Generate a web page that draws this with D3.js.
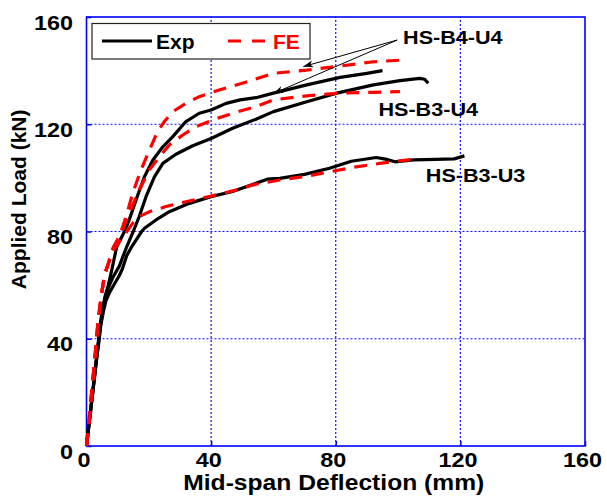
<!DOCTYPE html>
<html>
<head>
<meta charset="utf-8">
<script src="https://cdn.jsdelivr.net/npm/d3@7"></script>
<style>
    body { margin: 0; background: #fff; }
    svg text { font-family: "Liberation Sans", Arial, sans-serif; font-weight: bold; }
</style>
</head>
<body>
<div id="chart"></div>
<script>
// tick values
var xTicks = [0, 40, 80, 120, 160];
var yTicks = [0, 40, 80, 120, 160];

// experimental curves [deflection mm, load kN]
var expB4U4 = [[0,0],[0.6,6],[1.3,13],[2,20],[2.7,28],[3.4,35],[4,41],[4.6,47],[5.3,52],[6,56],[7,60],[8.1,65.6],[9.7,74.3],[12.2,80],[13.7,84.3],[15.9,91.8],[18.6,100.4],[21.3,106.7],[24.5,111.6],[27.7,115.4],[31.9,121],[36.2,124.1],[40,125.3],[44.8,127.8],[49.3,129.1],[54.4,129.9],[60,131.6],[70.7,134.7],[81.4,137.5],[90,139],[95,140]];
var expB3U4 = [[0,0],[0.6,6],[1.3,13],[2,20],[2.7,27],[3.4,34],[4,40],[4.6,46],[5.3,51],[5.9,55],[7,59],[8.5,63],[10.5,67],[12.9,74.3],[15,80],[16.9,85.5],[19.1,93],[21.8,100.4],[24.5,105.4],[28.7,108.8],[34.1,112],[40,114.7],[46.9,118.5],[54.4,121.9],[60,124.7],[70.7,128.4],[80.3,131.6],[92.1,134.7],[100.6,136.3],[107,137.1],[108.5,136.8],[109.7,135.3]];
var expB3U3 = [[0,0],[0.6,6],[1.3,13],[2,20],[2.7,27],[3.4,34],[4,39],[4.6,45],[5.4,50],[6.2,54],[7.5,57.5],[9,60.5],[10.5,63.5],[11.5,66],[12.9,71],[14.5,74.3],[15.9,76.8],[17.7,80],[18.6,81.2],[22.3,84.3],[26.6,87.4],[33,90.5],[40,93],[46.9,94.9],[54.4,98],[58,99.5],[62,99.8],[70,101.3],[78,103.6],[85,106.2],[93,107.6],[96,107],[99,106],[105,106.7],[112,106.9],[118,107.1],[121.3,108.2]];

// finite element curves
var feB4U4 = [[0,0],[0.7,8],[1.5,18],[2.3,28],[3,37],[3.6,45],[4.3,52],[5,58],[5.8,64],[7,68],[8.6,74],[10.5,78],[12.7,85.5],[14.8,94.2],[17.5,103],[20.2,110.4],[22.8,117.2],[25,121],[27.7,124.7],[31.9,127.8],[36.2,130.3],[42.6,132.8],[50,135.3],[60,139],[70.7,140.2],[81.4,141.7],[92.1,143.3],[102.2,144]];
var feB3U4 = [[0,0],[0.7,8],[1.5,18],[2.3,28],[3,37],[3.6,45],[4.3,52],[5,58],[5.8,64],[7,68],[8.6,74],[11.1,79.3],[13.7,86.8],[16.9,95.5],[20.2,103],[23.4,107.9],[26.6,112.3],[30.9,116],[35.2,119.1],[40.5,121.6],[46.9,124.1],[54.4,126.6],[60,129.1],[70.7,130.6],[81.4,131.6],[92.1,131.9],[100.6,132.2]];
var feB3U3 = [[0,0],[0.7,8],[1.5,18],[2.3,28],[3,37],[3.6,45],[4.3,52],[5,58],[5.8,64],[7,68],[8.6,73],[11,77],[13,80],[14.8,83.1],[16.9,85.5],[20.2,87.4],[25.5,89.3],[31.9,91.1],[40,93.2],[48,95.5],[53.4,97.4],[62,99.2],[70,100.5],[78.2,102.3],[86,104],[94.2,105.4],[100,106.3],[104.9,106.9]];

// specimen labels [text, x, y] in data units
var labels = [['HS-B4-U4', 101.6, 150], ['HS-B3-U4', 93.7, 123], ['HS-B3-U3', 108.9, 98.5]];
// arrows from the HS-B4-U4 label [x1, y1, x2, y2]
var arrows = [[99.7, 151.4, 69.6, 141.5], [99.7, 151.4, 60, 131.5]];

var W = 607, H = 498;
var margin = { left: 86.5, top: 17, right: 22, bottom: 52 };

var svg = d3.select('#chart').append('svg').attr('width', W).attr('height', H);

var x = d3.scaleLinear().domain([0, 160]).range([margin.left, W - margin.right]);
var y = d3.scaleLinear().domain([0, 160]).range([H - margin.bottom, margin.top]);

// labels go under the grid, like the original
svg.selectAll('.lbl').data(labels).enter().append('text').classed('lbl', true)
    .attr('transform', function (d) { return 'translate(' + x(d[1]) + ',' + y(d[2]) + ') scale(1.2,1)'; })
    .style('font-size', '18px').attr('fill', '#000')
    .text(function (d) { return d[0]; });

// dotted grid
var grid = svg.append('g');
grid.selectAll('.gx').data(xTicks.slice(1, -1)).enter().append('line')
    .attr('x1', function (d) { return x(d); }).attr('x2', function (d) { return x(d); })
    .attr('y1', y(0)).attr('y2', y(160));
grid.selectAll('.gy').data(yTicks.slice(1, -1)).enter().append('line')
    .attr('y1', function (d) { return y(d); }).attr('y2', function (d) { return y(d); })
    .attr('x1', x(0)).attr('x2', x(160));
grid.selectAll('line').attr('stroke', '#1010ee').attr('stroke-width', 1.2).attr('stroke-dasharray', '2,2');

// axes with inward ticks
var xAxis = svg.append('g').attr('transform', 'translate(0,' + y(0) + ')')
    .call(d3.axisBottom(x).tickValues(xTicks).tickSizeInner(-5).tickSizeOuter(0));
var yAxis = svg.append('g').attr('transform', 'translate(' + x(0) + ',0)')
    .call(d3.axisLeft(y).tickValues(yTicks).tickSizeInner(-5).tickSizeOuter(0));
[xAxis, yAxis].forEach(function (a) {
    a.select('.domain').remove();
    a.selectAll('.tick line').attr('stroke', '#0000ff').attr('stroke-width', 1.5);
    a.selectAll('.tick text').attr('fill', '#000').style('font-size', '20px');
});
xAxis.selectAll('.tick text').attr('y', 21).attr('dy', 0).attr('x', -2.5)
    .attr('transform', 'scale(1.17,1)');
yAxis.selectAll('.tick text').attr('x', -11.5).attr('dy', 0).attr('y', 12)
    .attr('transform', 'scale(1.17,1)');

// frame
svg.append('rect').attr('x', x(0)).attr('y', y(160))
    .attr('width', x(160) - x(0)).attr('height', y(0) - y(160))
    .attr('fill', 'none').attr('stroke', '#0000ff').attr('stroke-width', 1.6);

// axis titles
svg.append('text').attr('transform', 'translate(' + ((x(0) + x(160)) / 2 - 2) + ',490) scale(1.12,1)')
    .attr('text-anchor', 'middle').style('font-size', '22px').text('Mid-span Deflection (mm)');
svg.append('text').attr('transform', 'translate(26,' + y(92) + ') rotate(-90)')
    .attr('text-anchor', 'middle').style('font-size', '21px').text('Applied Load (kN)');

// curves
var line = d3.line().x(function (d) { return x(d[0]); }).y(function (d) { return y(d[1]); });
svg.selectAll('.exp').data([expB4U4, expB3U4, expB3U3]).enter().append('path').classed('exp', true)
    .attr('d', line).attr('fill', 'none').attr('stroke', '#000').attr('stroke-width', 3.2)
    .attr('stroke-linejoin', 'round');
svg.selectAll('.fe').data([feB4U4, feB3U4, feB3U3]).enter().append('path').classed('fe', true)
    .attr('d', line).attr('fill', 'none').attr('stroke', '#ff0000').attr('stroke-width', 3.2)
    .attr('stroke-dasharray', '13,9');

// arrow annotations
svg.append('defs').append('marker').attr('id', 'head')
    .attr('viewBox', '0 -5 12 10').attr('refX', 11).attr('refY', 0)
    .attr('markerWidth', 11).attr('markerHeight', 9).attr('markerUnits', 'userSpaceOnUse')
    .attr('orient', 'auto')
    .append('path').attr('d', 'M0,-4L11,0L0,4L3,0Z').attr('fill', '#000');
svg.selectAll('.arr').data(arrows).enter().append('line').classed('arr', true)
    .attr('x1', function (d) { return x(d[0]); }).attr('y1', function (d) { return y(d[1]); })
    .attr('x2', function (d) { return x(d[2]); }).attr('y2', function (d) { return y(d[3]); })
    .attr('stroke', '#000').attr('stroke-width', 1).attr('marker-end', 'url(#head)');

// legend
var lg = svg.append('g');
lg.append('rect').attr('x', 92).attr('y', 23.5).attr('width', 218).attr('height', 35.5)
    .attr('fill', '#fff').attr('stroke', '#222').attr('stroke-width', 1.2);
lg.append('line').attr('x1', 102).attr('x2', 152).attr('y1', 41).attr('y2', 41)
    .attr('stroke', '#000').attr('stroke-width', 3.2);
lg.append('text').attr('x', 156).attr('y', 49).style('font-size', '21px').attr('fill', '#000').text('Exp');
lg.append('line').attr('x1', 228).attr('x2', 265).attr('y1', 41).attr('y2', 41)
    .attr('stroke', '#ff0000').attr('stroke-width', 3.2).attr('stroke-dasharray', '13,11');
lg.append('text').attr('x', 273).attr('y', 49).style('font-size', '21px').attr('fill', '#ff0000').text('FE');
</script>
</body>
</html>
